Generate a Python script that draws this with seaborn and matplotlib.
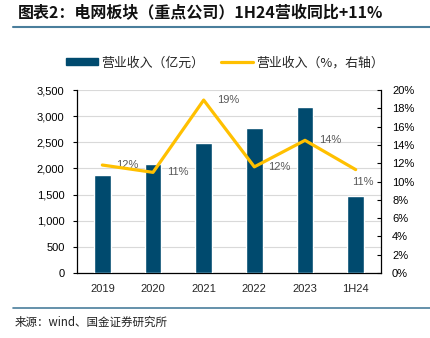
import matplotlib
matplotlib.use("Agg")
import matplotlib.pyplot as plt
import seaborn as sns
import pandas as pd
from matplotlib.patches import Patch
from matplotlib.lines import Line2D
from matplotlib.ticker import FuncFormatter, MultipleLocator, FixedLocator

categories = ["2019", "2020", "2021", "2022", "2023", "1H24"]
revenue = [1880, 2085, 2485, 2770, 3170, 1465]
growth = [11.8, 11.0, 18.9, 11.6, 14.5, 11.3]
growth_labels = ["12%", "11%", "19%", "12%", "14%", "11%"]

df = pd.DataFrame({"cat": categories, "rev": revenue, "g": growth})

sns.set_style("white")
plt.rcParams["font.family"] = ["Liberation Sans", "Noto Sans CJK SC", "DejaVu Sans"]

BAR = "#004a6e"
LINE = "#ffc000"
CJK = ["Noto Sans CJK SC", "DejaVu Sans"]

fig = plt.figure(figsize=(4.31, 3.38), dpi=100)
ax = fig.add_axes([77/431, 1-273/338, 304/431, 183/338])

sns.barplot(data=df, x="cat", y="rev", color=BAR, width=0.33, ax=ax, saturation=1, zorder=3)
ax.set_ylim(0, 3500)
ax.set_xlim(-0.5, 5.5)
ax.yaxis.set_major_locator(MultipleLocator(500))
ax.yaxis.set_major_formatter(FuncFormatter(lambda v, p: f"{int(v):,}"))
ax.grid(axis="y", color="#d9d9d9", linewidth=0.8, zorder=0)
ax.set_axisbelow(True)
ax.set_xlabel("")
ax.set_ylabel("")
for s in ["left", "bottom"]:
    ax.spines[s].set_color("black")
    ax.spines[s].set_linewidth(0.9)
ax.spines["top"].set_visible(False)
ax.spines["right"].set_visible(False)
ax.tick_params(axis="y", which="major", direction="out", length=3, width=0.8, labelsize=8, pad=6, colors="black")
ax.tick_params(axis="x", which="major", length=0, labelsize=8, pad=8)
ax.xaxis.set_minor_locator(FixedLocator([0.5, 1.5, 2.5, 3.5, 4.5]))
ax.tick_params(axis="x", which="minor", direction="in", length=3, width=0.8)

ax2 = ax.twinx()
sns.pointplot(data=df, x="cat", y="g", color=LINE, marker="", linestyle="-", linewidth=2.3, ax=ax2, zorder=5)
ax2.set_ylim(0, 20)
ax2.set_xlim(-0.5, 5.5)
ax2.yaxis.set_major_locator(MultipleLocator(2))
ax2.yaxis.set_major_formatter(FuncFormatter(lambda v, p: f"{int(v)}%"))
ax2.set_ylabel("")
ax2.set_xlabel("")
ax2.spines["top"].set_visible(False)
ax2.spines["left"].set_visible(False)
ax2.spines["bottom"].set_visible(False)
ax2.spines["right"].set_color("black")
ax2.spines["right"].set_linewidth(0.9)
ax2.tick_params(axis="y", direction="in", length=3, width=0.8, labelsize=8, pad=8, colors="black")

for i, (v, lab) in enumerate(zip(growth, growth_labels)):
    if i == len(growth) - 1:
        ax2.annotate(lab, (i, v), xytext=(5, -9), textcoords="offset points",
                     ha="center", va="center", fontsize=8, color="#595959")
    else:
        ax2.annotate(lab, (i, v), xytext=(10, 0), textcoords="offset points",
                     ha="left", va="center", fontsize=8, color="#595959")

handles = [Patch(facecolor=BAR, edgecolor=BAR), Line2D([0], [0], color=LINE, linewidth=2.3)]
fig.legend(handles, ["营业收入（亿元）", "营业收入（%，右轴）"], loc="center",
           bbox_to_anchor=(0.522, 1-63/338), ncol=2, frameon=False,
           handlelength=2.5, handleheight=0.45, columnspacing=1.3, handletextpad=0.25,
           prop={"family": CJK, "size": 9.3})

fig.text(18/431, 1-13/338, "图表2：电网板块（重点公司）1H24营收同比+11%", fontsize=11.5,
         fontweight="bold", style="italic", ha="left", va="center",
         family=CJK, color="#111111")
fig.add_artist(Line2D([13/431, 1], [1-27/338, 1-27/338], color="#4a7e9c", linewidth=1.5, transform=fig.transFigure))
fig.add_artist(Line2D([13/431, 1], [1-308/338, 1-308/338], color="#4a7e9c", linewidth=1.2, transform=fig.transFigure))
fig.text(15/431, 1-322/338, "来源：wind、国金证券研究所", fontsize=8.3, ha="left", va="center",
         family=CJK, color="#222222")

fig.savefig("out.png", dpi=100)
